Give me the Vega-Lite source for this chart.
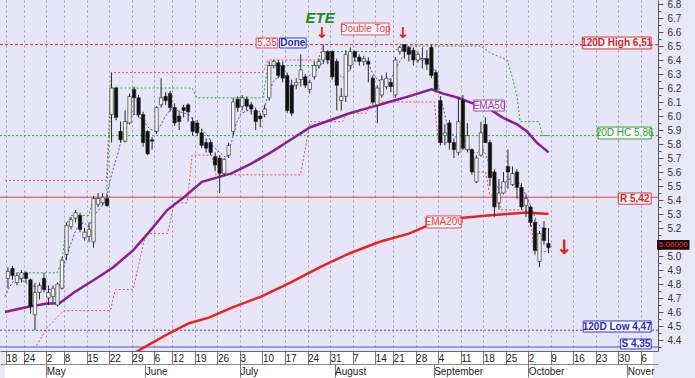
{
"$schema": "https://vega.github.io/schema/vega-lite/v6.json",
"width": 658, "height": 351,
"autosize": {"type": "none"},
"padding": {"left": 0, "top": 0, "right": 37, "bottom": 27},
"background": "#E8E8F6",
"config": {"view": {"fill": "#E6E6F8", "stroke": null}, "font": "Liberation Sans"},
"resolve": {"axis": {"x": "independent", "y": "independent"}},
"datasets": {
"candles": [
{"i":0,"o":4.84,"h":4.92,"l":4.77,"c":4.89},{"i":1,"o":4.91,"h":4.93,"l":4.83,"c":4.86},{"i":2,"o":4.81,"h":4.88,"l":4.79,"c":4.86},{"i":3,"o":4.84,"h":4.90,"l":4.81,"c":4.88},{"i":4,"o":4.88,"h":4.89,"l":4.81,"c":4.84},
{"i":5,"o":4.83,"h":4.84,"l":4.59,"c":4.64},{"i":6,"o":4.58,"h":4.81,"l":4.47,"c":4.74},{"i":7,"o":4.74,"h":4.81,"l":4.69,"c":4.79},{"i":8,"o":4.84,"h":4.88,"l":4.74,"c":4.76},{"i":9,"o":4.70,"h":4.79,"l":4.65,"c":4.74},
{"i":10,"o":4.71,"h":4.79,"l":4.67,"c":4.77},{"i":11,"o":4.65,"h":4.81,"l":4.64,"c":4.80},{"i":12,"o":4.77,"h":4.99,"l":4.76,"c":4.97},{"i":13,"o":5.01,"h":5.24,"l":4.97,"c":5.22},{"i":14,"o":5.21,"h":5.28,"l":5.19,"c":5.26},
{"i":15,"o":5.27,"h":5.33,"l":5.24,"c":5.31},{"i":16,"o":5.29,"h":5.31,"l":5.17,"c":5.19},{"i":17,"o":5.13,"h":5.20,"l":5.11,"c":5.17},{"i":18,"o":5.14,"h":5.24,"l":5.10,"c":5.19},{"i":19,"o":5.10,"h":5.43,"l":5.06,"c":5.41},
{"i":20,"o":5.37,"h":5.45,"l":5.35,"c":5.41},{"i":21,"o":5.38,"h":5.45,"l":5.36,"c":5.42},{"i":22,"o":5.41,"h":5.44,"l":5.35,"c":5.36},{"i":23,"o":6.01,"h":6.31,"l":5.81,"c":6.20},{"i":24,"o":6.20,"h":6.21,"l":5.97,"c":5.99},
{"i":25,"o":5.89,"h":5.96,"l":5.81,"c":5.83},{"i":26,"o":5.82,"h":6.04,"l":5.81,"c":5.96},{"i":27,"o":5.95,"h":6.16,"l":5.94,"c":6.14},{"i":28,"o":6.19,"h":6.21,"l":6.01,"c":6.13},{"i":29,"o":6.13,"h":6.15,"l":5.99,"c":6.01},
{"i":30,"o":6.01,"h":6.03,"l":5.78,"c":5.81},{"i":31,"o":5.89,"h":5.90,"l":5.72,"c":5.73},{"i":32,"o":5.83,"h":5.85,"l":5.76,"c":5.82},{"i":33,"o":5.89,"h":6.07,"l":5.87,"c":6.06},{"i":34,"o":6.08,"h":6.27,"l":6.06,"c":6.13},
{"i":35,"o":6.14,"h":6.17,"l":6.08,"c":6.11},{"i":36,"o":6.16,"h":6.18,"l":6.03,"c":6.06},{"i":37,"o":6.06,"h":6.09,"l":5.93,"c":5.95},{"i":38,"o":6.00,"h":6.04,"l":5.90,"c":5.96},{"i":39,"o":6.06,"h":6.08,"l":5.99,"c":6.04},
{"i":40,"o":6.08,"h":6.09,"l":5.96,"c":6.03},{"i":41,"o":5.96,"h":5.99,"l":5.86,"c":5.89},{"i":42,"o":5.95,"h":5.97,"l":5.86,"c":5.88},{"i":43,"o":5.88,"h":5.91,"l":5.77,"c":5.79},{"i":44,"o":5.81,"h":5.84,"l":5.74,"c":5.77},
{"i":45,"o":5.81,"h":5.83,"l":5.72,"c":5.74},{"i":46,"o":5.71,"h":5.74,"l":5.61,"c":5.65},{"i":47,"o":5.70,"h":5.72,"l":5.45,"c":5.59},{"i":48,"o":5.59,"h":5.70,"l":5.57,"c":5.69},{"i":49,"o":5.72,"h":5.81,"l":5.70,"c":5.79},
{"i":50,"o":5.89,"h":6.13,"l":5.86,"c":6.10},{"i":51,"o":6.12,"h":6.14,"l":6.03,"c":6.06},{"i":52,"o":6.07,"h":6.15,"l":6.04,"c":6.13},{"i":53,"o":6.12,"h":6.14,"l":6.04,"c":6.07},{"i":54,"o":6.08,"h":6.10,"l":6.01,"c":6.05},
{"i":55,"o":6.04,"h":6.06,"l":5.90,"c":5.96},{"i":56,"o":6.00,"h":6.02,"l":5.92,"c":5.98},{"i":57,"o":6.01,"h":6.08,"l":5.99,"c":6.05},{"i":58,"o":6.13,"h":6.39,"l":6.11,"c":6.36},{"i":59,"o":6.36,"h":6.40,"l":6.34,"c":6.39},
{"i":60,"o":6.38,"h":6.40,"l":6.27,"c":6.29},{"i":61,"o":6.36,"h":6.39,"l":6.24,"c":6.27},{"i":62,"o":6.29,"h":6.31,"l":6.02,"c":6.04},{"i":63,"o":6.22,"h":6.26,"l":6.00,"c":6.02},{"i":64,"o":6.22,"h":6.27,"l":6.19,"c":6.24},
{"i":65,"o":6.26,"h":6.44,"l":6.21,"c":6.33},{"i":66,"o":6.28,"h":6.30,"l":6.20,"c":6.22},{"i":67,"o":6.19,"h":6.26,"l":6.16,"c":6.24},{"i":68,"o":6.28,"h":6.39,"l":6.26,"c":6.36},{"i":69,"o":6.36,"h":6.41,"l":6.34,"c":6.39},
{"i":70,"o":6.40,"h":6.51,"l":6.37,"c":6.46},{"i":71,"o":6.46,"h":6.47,"l":6.37,"c":6.40},{"i":72,"o":6.46,"h":6.47,"l":6.26,"c":6.28},{"i":73,"o":6.39,"h":6.41,"l":6.04,"c":6.22},{"i":74,"o":6.11,"h":6.20,"l":6.04,"c":6.14},
{"i":75,"o":6.14,"h":6.47,"l":6.10,"c":6.44},{"i":76,"o":6.36,"h":6.49,"l":6.33,"c":6.46},{"i":77,"o":6.46,"h":6.47,"l":6.39,"c":6.42},{"i":78,"o":6.42,"h":6.44,"l":6.36,"c":6.39},{"i":79,"o":6.39,"h":6.43,"l":6.36,"c":6.41},
{"i":80,"o":6.39,"h":6.42,"l":6.24,"c":6.37},{"i":81,"o":6.27,"h":6.29,"l":6.08,"c":6.10},{"i":82,"o":6.08,"h":6.22,"l":5.95,"c":6.20},{"i":83,"o":6.15,"h":6.29,"l":6.13,"c":6.26},{"i":84,"o":6.21,"h":6.31,"l":6.19,"c":6.27},
{"i":85,"o":6.24,"h":6.27,"l":6.17,"c":6.21},{"i":86,"o":6.15,"h":6.42,"l":6.13,"c":6.40},{"i":87,"o":6.46,"h":6.50,"l":6.44,"c":6.49},{"i":88,"o":6.51,"h":6.51,"l":6.41,"c":6.46},{"i":89,"o":6.49,"h":6.50,"l":6.39,"c":6.44},
{"i":90,"o":6.47,"h":6.49,"l":6.36,"c":6.40},{"i":91,"o":6.40,"h":6.46,"l":6.38,"c":6.44},{"i":92,"o":6.40,"h":6.49,"l":6.34,"c":6.41},{"i":93,"o":6.41,"h":6.47,"l":6.33,"c":6.37},{"i":94,"o":6.49,"h":6.51,"l":6.27,"c":6.29},
{"i":95,"o":6.31,"h":6.33,"l":6.17,"c":6.19},{"i":96,"o":6.11,"h":6.14,"l":5.79,"c":5.81},{"i":97,"o":5.86,"h":5.94,"l":5.79,"c":5.88},{"i":98,"o":5.95,"h":5.97,"l":5.76,"c":5.81},{"i":99,"o":5.81,"h":5.84,"l":5.70,"c":5.76},
{"i":100,"o":5.74,"h":6.13,"l":5.72,"c":5.96},{"i":101,"o":6.11,"h":6.15,"l":5.76,"c":5.77},{"i":102,"o":5.76,"h":5.95,"l":5.74,"c":5.86},{"i":103,"o":5.76,"h":5.77,"l":5.58,"c":5.60},{"i":104,"o":5.53,"h":5.72,"l":5.52,"c":5.70},
{"i":105,"o":5.72,"h":5.96,"l":5.71,"c":5.88},{"i":106,"o":5.94,"h":5.99,"l":5.81,"c":5.81},{"i":107,"o":5.81,"h":5.83,"l":5.50,"c":5.56},{"i":108,"o":5.60,"h":5.62,"l":5.28,"c":5.35},{"i":109,"o":5.38,"h":5.55,"l":5.33,"c":5.45},
{"i":110,"o":5.45,"h":5.60,"l":5.44,"c":5.53},{"i":111,"o":5.64,"h":5.76,"l":5.48,"c":5.60},{"i":112,"o":5.51,"h":5.64,"l":5.50,"c":5.59},{"i":113,"o":5.60,"h":5.62,"l":5.41,"c":5.49},{"i":114,"o":5.49,"h":5.52,"l":5.33,"c":5.35},
{"i":115,"o":5.36,"h":5.44,"l":5.28,"c":5.41},{"i":116,"o":5.35,"h":5.36,"l":5.21,"c":5.24},{"i":117,"o":5.24,"h":5.26,"l":5.01,"c":5.04},{"i":118,"o":4.96,"h":5.18,"l":4.92,"c":5.16},{"i":119,"o":5.20,"h":5.25,"l":5.08,"c":5.11},
{"i":120,"o":5.09,"h":5.20,"l":5.02,"c":5.06}
],
"ema50": [
{"i":-0.66,"v":4.60},{"i":4.81,"v":4.64},{"i":8.75,"v":4.66},{"i":11.37,"v":4.66},{"i":14.65,"v":4.74},{"i":20.11,"v":4.85},{"i":23.39,"v":4.92},{"i":27.77,"v":5.04},{"i":31.04,"v":5.16},{"i":35.42,"v":5.33},{"i":38.70,"v":5.41},{"i":40.88,"v":5.47},{"i":43.07,"v":5.53},{"i":46.35,"v":5.56},{"i":49.63,"v":5.59},{"i":54.00,"v":5.66},{"i":58.37,"v":5.74},{"i":62.75,"v":5.83},{"i":67.12,"v":5.92},{"i":71.49,"v":5.97},{"i":75.86,"v":6.02},{"i":80.23,"v":6.06},{"i":84.61,"v":6.10},{"i":88.98,"v":6.14},{"i":94.01,"v":6.19},{"i":96.63,"v":6.16},{"i":99.91,"v":6.13},{"i":103.19,"v":6.09},{"i":106.47,"v":6.06},{"i":109.75,"v":5.99},{"i":113.03,"v":5.94},{"i":115.22,"v":5.89},{"i":117.40,"v":5.81},{"i":120.03,"v":5.74}
],
"ema200": [
{"i":28.2,"v":4.31},{"i":31.5,"v":4.37},{"i":35.9,"v":4.45},{"i":40.2,"v":4.52},{"i":44.6,"v":4.56},{"i":49.6,"v":4.63},{"i":56.2,"v":4.71},{"i":62.7,"v":4.81},{"i":69.3,"v":4.92},{"i":75.9,"v":5.02},{"i":82.4,"v":5.10},{"i":89.0,"v":5.16},{"i":93.4,"v":5.22},{"i":99.9,"v":5.27},{"i":106.5,"v":5.29},{"i":110.8,"v":5.30},{"i":115.2,"v":5.31},{"i":120.0,"v":5.30}
],
"upper": [
{"i":1.97,"v":4.88},{"i":10.93,"v":4.88},{"i":12.02,"v":4.97},{"i":12.90,"v":5.22},{"i":13.99,"v":5.29},{"i":17.93,"v":5.29},{"i":19.02,"v":5.41},{"i":21.86,"v":5.41},{"i":22.96,"v":6.20},{"i":40.88,"v":6.20},{"i":41.98,"v":6.13},{"i":56.63,"v":6.13},{"i":57.72,"v":6.36},{"i":68.87,"v":6.36},{"i":69.96,"v":6.46},{"i":85.92,"v":6.46},{"i":87.01,"v":6.50},{"i":104.94,"v":6.50},{"i":107.13,"v":6.45},{"i":110.84,"v":6.40},{"i":111.94,"v":6.28},{"i":113.03,"v":6.14},{"i":113.69,"v":5.96},{"i":117.84,"v":5.96},{"i":118.72,"v":5.86},{"i":120.03,"v":5.86}
],
"lower": [
{"i":6.34,"v":4.36},{"i":8.75,"v":4.49},{"i":12.02,"v":4.60},{"i":12.90,"v":4.61},{"i":22.74,"v":4.61},{"i":23.83,"v":4.76},{"i":27.77,"v":4.76},{"i":30.61,"v":5.16},{"i":35.42,"v":5.16},{"i":36.95,"v":5.38},{"i":39.79,"v":5.38},{"i":40.88,"v":5.72},{"i":45.26,"v":5.72},{"i":46.13,"v":5.58},{"i":64.93,"v":5.58},{"i":67.12,"v":5.96},{"i":74.33,"v":5.96},{"i":75.21,"v":6.02},{"i":79.58,"v":6.02},{"i":80.67,"v":6.10},{"i":94.66,"v":6.10},{"i":95.54,"v":5.81},{"i":99.91,"v":5.81},{"i":100.79,"v":5.76},{"i":102.54,"v":5.76},{"i":103.41,"v":5.60},{"i":106.04,"v":5.60},{"i":106.91,"v":5.44},{"i":108.66,"v":5.42},{"i":109.53,"v":5.33},{"i":115.87,"v":5.33},{"i":116.74,"v":5.04},{"i":120.03,"v":5.03}
],
"high120": [
{"i":-0.66,"v":5.54},{"i":21.86,"v":5.54},{"i":22.96,"v":6.31},{"i":56.63,"v":6.31},{"i":57.72,"v":6.40},{"i":68.87,"v":6.40},{"i":69.96,"v":6.51}
],
"trail": [
{"i":-0.7,"v":4.71},{"i":0.9,"v":4.81},{"i":2.6,"v":4.84},{"i":4.8,"v":4.79},{"i":6.6,"v":4.78},{"i":8.8,"v":4.76},{"i":10.9,"v":4.76},{"i":11.8,"v":4.83},{"i":12.9,"v":4.99},{"i":14.0,"v":5.09},{"i":15.1,"v":5.19},{"i":16.8,"v":5.24},{"i":17.9,"v":5.21},{"i":19.0,"v":5.28},{"i":20.6,"v":5.35},{"i":21.9,"v":5.40},{"i":22.3,"v":5.49},{"i":23.4,"v":5.63},{"i":24.5,"v":5.74},{"i":25.1,"v":5.83},{"i":26.2,"v":5.92},{"i":27.3,"v":6.01},{"i":28.4,"v":6.01},{"i":30.0,"v":5.97},{"i":31.1,"v":5.92},{"i":32.6,"v":5.89},{"i":33.7,"v":5.92},{"i":34.8,"v":5.99},{"i":35.9,"v":6.04},{"i":37.0,"v":6.06},{"i":38.0,"v":6.03},{"i":39.1,"v":6.02},{"i":40.2,"v":6.01},{"i":41.3,"v":5.96},{"i":42.4,"v":5.92},{"i":43.5,"v":5.89},{"i":44.6,"v":5.85},{"i":45.3,"v":5.79},{"i":47.0,"v":5.74},{"i":48.5,"v":5.70},{"i":49.6,"v":5.81},{"i":50.7,"v":5.95},{"i":51.8,"v":6.02},{"i":53.4,"v":6.04},{"i":54.7,"v":6.03},{"i":56.6,"v":6.03},{"i":57.7,"v":6.14},{"i":58.8,"v":6.24},{"i":59.9,"v":6.28},{"i":61.0,"v":6.29},{"i":62.1,"v":6.27},{"i":63.2,"v":6.21},{"i":64.3,"v":6.22},{"i":65.4,"v":6.26},{"i":66.5,"v":6.28},{"i":68.7,"v":6.33},{"i":70.0,"v":6.39},{"i":71.5,"v":6.38},{"i":73.0,"v":6.31},{"i":74.3,"v":6.27},{"i":75.4,"v":6.31},{"i":77.0,"v":6.39},{"i":78.5,"v":6.41},{"i":79.8,"v":6.39},{"i":80.9,"v":6.31},{"i":82.0,"v":6.26},{"i":83.5,"v":6.24},{"i":85.1,"v":6.27},{"i":86.1,"v":6.34},{"i":87.5,"v":6.42},{"i":89.0,"v":6.46},{"i":90.5,"v":6.44},{"i":91.8,"v":6.41},{"i":93.4,"v":6.41},{"i":94.5,"v":6.34},{"i":95.5,"v":6.22},{"i":96.6,"v":6.06},{"i":97.7,"v":5.91},{"i":99.3,"v":5.85},{"i":100.6,"v":5.86},{"i":101.7,"v":5.81},{"i":102.8,"v":5.74},{"i":104.3,"v":5.74},{"i":105.4,"v":5.77},{"i":106.5,"v":5.69},{"i":107.6,"v":5.58},{"i":108.7,"v":5.49},{"i":109.8,"v":5.49},{"i":110.8,"v":5.54},{"i":111.9,"v":5.56},{"i":113.0,"v":5.54},{"i":114.1,"v":5.49},{"i":115.2,"v":5.42},{"i":116.3,"v":5.34},{"i":117.4,"v":5.24},{"i":118.5,"v":5.20},{"i":119.6,"v":5.19}
],
"redBold": [
{"t":"120D High 6,51","a":127.5,"b":142.8,"lo":6.479,"hi":6.564,"m":135.15,"n":6.521},
{"t":"R 5,42","a":135.5,"b":142.8,"lo":5.37,"hi":5.45,"m":139.15,"n":5.41}
],
"redReg": [
{"t":"EMA200","a":92.9,"b":100.6,"lo":5.200,"hi":5.286,"m":96.75,"n":5.243},
{"t":"Double Top","a":74.1,"b":84.6,"lo":6.579,"hi":6.664,"m":79.35,"n":6.621},
{"t":"5,35","a":55.1,"b":59.9,"lo":6.486,"hi":6.557,"m":57.5,"n":6.521}
],
"greenBold": [
{"t":"20D HC 5,86","a":131.0,"b":142.8,"lo":5.836,"hi":5.921,"m":136.9,"n":5.879}
],
"blueBold": [
{"t":"120D Low 4,47","a":127.7,"b":142.8,"lo":4.457,"hi":4.536,"m":135.25,"n":4.496},
{"t":"S 4,35","a":136.0,"b":142.8,"lo":4.336,"hi":4.407,"m":139.4,"n":4.371},
{"t":"Done","a":60.3,"b":66.2,"lo":6.486,"hi":6.557,"m":63.25,"n":6.521}
],
"purpleReg": [
{"t":"EMA50","a":103.4,"b":110.2,"lo":6.036,"hi":6.114,"m":106.8,"n":6.075}
]
},
"layer": [
{"data": {"values": [{"a": -0.656, "b": 143.2, "lo": 4.3215, "hi": 4.12}]}, "mark": {"type": "rect", "fill": "#FFFFFF"},
 "encoding": {"x": {"field": "a", "type": "quantitative", "scale": {"domain": [-0.656, 143.2], "nice": false, "zero": false}, "axis": null}, "x2": {"field": "b"},
   "y": {"field": "lo", "type": "quantitative", "scale": {"domain": [4.3215, 6.8286], "nice": false, "zero": false}, "axis": null}, "y2": {"field": "hi"}}},
{"data": {"values": [{"v": 6.51}]}, "mark": {"type": "rule", "color": "#E0303A", "strokeWidth": 1, "strokeDash": [3, 2]},
 "encoding": {"y": {"field": "v", "type": "quantitative", "scale": {"domain": [4.3215, 6.8286], "nice": false, "zero": false},
   "axis": {"orient": "right", "values": [4.4,4.5,4.6,4.7,4.8,4.9,5.0,5.2,5.3,5.4,5.5,5.6,5.7,5.8,5.9,6.0,6.1,6.2,6.3,6.4,6.5,6.6,6.7,6.8], "format": ".1f", "title": null, "tickSize": 5, "labelPadding": 4, "labelFontSize": 10, "labelColor": "#333333", "labelFont": "Liberation Sans", "domainColor": "#555555", "tickColor": "#555555", "grid": false, "labelFlush": false, "labelOverlap": false}}}},
{"data": {"values": [{"v": 5.86}]}, "mark": {"type": "rule", "color": "#3C9F3C", "strokeWidth": 1, "strokeDash": [2, 2]},
 "encoding": {"y": {"field": "v", "type": "quantitative", "scale": {"domain": [4.3215, 6.8286], "nice": false, "zero": false},
   "axis": {"orient": "right", "values": [4.35,4.45,4.55,4.65,4.75,4.85,4.95,5.05,5.15,5.25,5.35,5.45,5.55,5.65,5.75,5.85,5.95,6.05,6.15,6.25,6.35,6.45,6.55,6.65,6.75], "labels": false, "domain": false, "title": null, "tickSize": 3, "tickColor": "#555555", "grid": false}}}},
{"data": {"values": [{"v": 5.42}]}, "mark": {"type": "rule", "color": "#E8404E", "strokeWidth": 1},
 "encoding": {"y": {"field": "v", "type": "quantitative", "scale": {"domain": [4.3215, 6.8286], "nice": false, "zero": false}, "axis": null}}},
{"data": {"values": [{"v": 4.47}]}, "mark": {"type": "rule", "color": "#4848E0", "strokeWidth": 1, "strokeDash": [2, 2]},
 "encoding": {"y": {"field": "v", "type": "quantitative", "scale": {"domain": [4.3215, 6.8286], "nice": false, "zero": false}, "axis": null}}},
{"data": {"values": [{"v": 4.35}]}, "mark": {"type": "rule", "color": "#5050E0", "strokeWidth": 1},
 "encoding": {"y": {"field": "v", "type": "quantitative", "scale": {"domain": [4.3215, 6.8286], "nice": false, "zero": false}, "axis": null}}},
{"data": {"name": "high120"}, "mark": {"type": "line", "color": "#E8505A", "strokeWidth": 1, "strokeDash": [2, 2]},
 "encoding": {"x": {"field": "i", "type": "quantitative", "scale": {"domain": [-0.656, 143.2], "nice": false, "zero": false},
   "axis": {"orient": "bottom", "title": null, "values": [-0.5,3.5,8.5,12.5,17.5,22.5,27.5,32.5,36.5,41.5,46.5,51.5,56.5,61.5,66.5,71.5,76.5,81.5,85.5,90.5,95.5,100.5,105.5,110.5,115.5,120.5,125.5,130.5,135.5,140.5],
     "grid": true, "gridDash": [2, 3], "gridColor": "#9C9CB0", "gridWidth": 1, "labels": false, "ticks": false, "domain": false, "zindex": 0}},
   "y": {"field": "v", "type": "quantitative", "scale": {"domain": [4.3215, 6.8286], "nice": false, "zero": false}, "axis": null}}},
{"data": {"name": "upper"}, "mark": {"type": "line", "color": "#3C9F3C", "strokeWidth": 1, "strokeDash": [2, 2]},
 "encoding": {"x": {"field": "i", "type": "quantitative", "scale": {"domain": [-0.656, 143.2], "nice": false, "zero": false}, "axis": null},
   "y": {"field": "v", "type": "quantitative", "scale": {"domain": [4.3215, 6.8286], "nice": false, "zero": false}, "axis": null}}},
{"data": {"name": "lower"}, "mark": {"type": "line", "color": "#E8505A", "strokeWidth": 1, "strokeDash": [2, 2]},
 "encoding": {"x": {"field": "i", "type": "quantitative", "scale": {"domain": [-0.656, 143.2], "nice": false, "zero": false}, "axis": null},
   "y": {"field": "v", "type": "quantitative", "scale": {"domain": [4.3215, 6.8286], "nice": false, "zero": false}, "axis": null}}},
{"data": {"name": "trail"}, "mark": {"type": "line", "color": "#4B4BE0", "strokeWidth": 1, "strokeDash": [2, 2]},
 "encoding": {"x": {"field": "i", "type": "quantitative", "scale": {"domain": [-0.656, 143.2], "nice": false, "zero": false},
   "axis": {"orient": "bottom", "title": null, "offset": 13, "values": [8.5, 30.5, 51.5, 72.5, 94.5, 115.5, 137.5],
     "labelExpr": "['May','June','July','August','September','October','Nover'][indexof([8.5,30.5,51.5,72.5,94.5,115.5,137.5], datum.value)]",
     "tickSize": 13, "labelPadding": -11, "labelAlign": "left", "labelBaseline": "top", "labelDx": 2, "labelFontSize": 10, "labelColor": "#222222", "labelFont": "Liberation Sans", "labelFlush": false, "labelOverlap": false, "labelBound": false,
     "grid": false, "domainColor": "#888888", "tickColor": "#777777", "zindex": 1}},
   "y": {"field": "v", "type": "quantitative", "scale": {"domain": [4.3215, 6.8286], "nice": false, "zero": false}, "axis": null}}},
{"data": {"name": "ema200"}, "mark": {"type": "line", "color": "#E8231E", "strokeWidth": 2.5, "clip": true},
 "encoding": {"x": {"field": "i", "type": "quantitative", "scale": {"domain": [-0.656, 143.2], "nice": false, "zero": false}, "axis": null},
   "y": {"field": "v", "type": "quantitative", "scale": {"domain": [4.3215, 6.8286], "nice": false, "zero": false}, "axis": null}}},
{"data": {"name": "ema50"}, "mark": {"type": "line", "color": "#8A1F8F", "strokeWidth": 2.5, "clip": true},
 "encoding": {"x": {"field": "i", "type": "quantitative", "scale": {"domain": [-0.656, 143.2], "nice": false, "zero": false}, "axis": null},
   "y": {"field": "v", "type": "quantitative", "scale": {"domain": [4.3215, 6.8286], "nice": false, "zero": false}, "axis": null}}},
{"data": {"name": "candles"}, "mark": {"type": "rule", "color": "#2A2A2A", "strokeWidth": 1},
 "encoding": {"x": {"field": "i", "type": "quantitative", "scale": {"domain": [-0.656, 143.2], "nice": false, "zero": false},
   "axis": {"orient": "bottom", "title": null, "values": [-0.5,3.5,8.5,12.5,17.5,22.5,27.5,32.5,36.5,41.5,46.5,51.5,56.5,61.5,66.5,71.5,76.5,81.5,85.5,90.5,95.5,100.5,105.5,110.5,115.5,120.5,125.5,130.5,135.5,140.5],
     "labelExpr": "['18','24','2','8','15','22','29','6','12','19','26','3','10','17','24','31','7','14','21','28','4','11','18','25','2','9','16','23','30','6'][indexof([-0.5,3.5,8.5,12.5,17.5,22.5,27.5,32.5,36.5,41.5,46.5,51.5,56.5,61.5,66.5,71.5,76.5,81.5,85.5,90.5,95.5,100.5,105.5,110.5,115.5,120.5,125.5,130.5,135.5,140.5], datum.value)]",
     "tickSize": 13, "labelPadding": -11, "labelAlign": "left", "labelBaseline": "top", "labelDx": 2, "labelFontSize": 10, "labelColor": "#222222", "labelFont": "Liberation Sans", "labelFlush": false, "labelOverlap": false, "labelBound": false,
     "grid": false, "domainColor": "#666666", "tickColor": "#777777", "zindex": 1}},
   "y": {"field": "l", "type": "quantitative", "scale": {"domain": [4.3215, 6.8286], "nice": false, "zero": false}, "axis": null},
   "y2": {"field": "h"}}},
{"data": {"name": "candles"}, "mark": {"type": "bar", "size": 3.4, "stroke": "#222222", "strokeWidth": 0.6},
 "encoding": {"x": {"field": "i", "type": "quantitative", "scale": {"domain": [-0.656, 143.2], "nice": false, "zero": false}, "axis": null},
   "y": {"field": "o", "type": "quantitative", "scale": {"domain": [4.3215, 6.8286], "nice": false, "zero": false}, "axis": null},
   "y2": {"field": "c"},
   "fill": {"condition": {"test": "datum.c >= datum.o", "value": "#F2F2F2"}, "value": "#111111"}}},
{"data": {"name": "redBold"}, "mark": {"type": "rect", "fill": "#FFFFFF", "fillOpacity": 0.9, "stroke": "#E0303A", "strokeWidth": 1},
 "encoding": {"x": {"field": "a", "type": "quantitative", "scale": {"domain": [-0.656, 143.2], "nice": false, "zero": false}, "axis": null}, "x2": {"field": "b"},
   "y": {"field": "lo", "type": "quantitative", "scale": {"domain": [4.3215, 6.8286], "nice": false, "zero": false}, "axis": null}, "y2": {"field": "hi"}}},
{"data": {"name": "redBold"}, "mark": {"type": "text", "color": "#E0202A", "fontSize": 10, "fontWeight": "bold", "align": "center", "baseline": "middle"},
 "encoding": {"x": {"field": "m", "type": "quantitative", "scale": {"domain": [-0.656, 143.2], "nice": false, "zero": false}, "axis": null},
   "y": {"field": "n", "type": "quantitative", "scale": {"domain": [4.3215, 6.8286], "nice": false, "zero": false}, "axis": null}, "text": {"field": "t"}}},
{"data": {"name": "redReg"}, "mark": {"type": "rect", "fill": "#FFFFFF", "fillOpacity": 0.85, "stroke": "#E85058", "strokeWidth": 1},
 "encoding": {"x": {"field": "a", "type": "quantitative", "scale": {"domain": [-0.656, 143.2], "nice": false, "zero": false}, "axis": null}, "x2": {"field": "b"},
   "y": {"field": "lo", "type": "quantitative", "scale": {"domain": [4.3215, 6.8286], "nice": false, "zero": false}, "axis": null}, "y2": {"field": "hi"}}},
{"data": {"name": "redReg"}, "mark": {"type": "text", "color": "#E8404A", "fontSize": 10, "align": "center", "baseline": "middle"},
 "encoding": {"x": {"field": "m", "type": "quantitative", "scale": {"domain": [-0.656, 143.2], "nice": false, "zero": false}, "axis": null},
   "y": {"field": "n", "type": "quantitative", "scale": {"domain": [4.3215, 6.8286], "nice": false, "zero": false}, "axis": null}, "text": {"field": "t"}}},
{"data": {"name": "greenBold"}, "mark": {"type": "rect", "fill": "#FFFFFF", "fillOpacity": 0.9, "stroke": "#3C9F3C", "strokeWidth": 1},
 "encoding": {"x": {"field": "a", "type": "quantitative", "scale": {"domain": [-0.656, 143.2], "nice": false, "zero": false}, "axis": null}, "x2": {"field": "b"},
   "y": {"field": "lo", "type": "quantitative", "scale": {"domain": [4.3215, 6.8286], "nice": false, "zero": false}, "axis": null}, "y2": {"field": "hi"}}},
{"data": {"name": "greenBold"}, "mark": {"type": "text", "color": "#2E9A2E", "fontSize": 10, "align": "center", "baseline": "middle"},
 "encoding": {"x": {"field": "m", "type": "quantitative", "scale": {"domain": [-0.656, 143.2], "nice": false, "zero": false}, "axis": null},
   "y": {"field": "n", "type": "quantitative", "scale": {"domain": [4.3215, 6.8286], "nice": false, "zero": false}, "axis": null}, "text": {"field": "t"}}},
{"data": {"name": "blueBold"}, "mark": {"type": "rect", "fill": "#FFFFFF", "fillOpacity": 0.9, "stroke": "#3434D8", "strokeWidth": 1},
 "encoding": {"x": {"field": "a", "type": "quantitative", "scale": {"domain": [-0.656, 143.2], "nice": false, "zero": false}, "axis": null}, "x2": {"field": "b"},
   "y": {"field": "lo", "type": "quantitative", "scale": {"domain": [4.3215, 6.8286], "nice": false, "zero": false}, "axis": null}, "y2": {"field": "hi"}}},
{"data": {"name": "blueBold"}, "mark": {"type": "text", "color": "#2828D0", "fontSize": 10, "fontWeight": "bold", "align": "center", "baseline": "middle"},
 "encoding": {"x": {"field": "m", "type": "quantitative", "scale": {"domain": [-0.656, 143.2], "nice": false, "zero": false}, "axis": null},
   "y": {"field": "n", "type": "quantitative", "scale": {"domain": [4.3215, 6.8286], "nice": false, "zero": false}, "axis": null}, "text": {"field": "t"}}},
{"data": {"name": "purpleReg"}, "mark": {"type": "rect", "fill": "#FFFFFF", "fillOpacity": 0.85, "stroke": "#A040A8", "strokeWidth": 1},
 "encoding": {"x": {"field": "a", "type": "quantitative", "scale": {"domain": [-0.656, 143.2], "nice": false, "zero": false}, "axis": null}, "x2": {"field": "b"},
   "y": {"field": "lo", "type": "quantitative", "scale": {"domain": [4.3215, 6.8286], "nice": false, "zero": false}, "axis": null}, "y2": {"field": "hi"}}},
{"data": {"name": "purpleReg"}, "mark": {"type": "text", "color": "#9A3AA2", "fontSize": 10, "align": "center", "baseline": "middle"},
 "encoding": {"x": {"field": "m", "type": "quantitative", "scale": {"domain": [-0.656, 143.2], "nice": false, "zero": false}, "axis": null},
   "y": {"field": "n", "type": "quantitative", "scale": {"domain": [4.3215, 6.8286], "nice": false, "zero": false}, "axis": null}, "text": {"field": "t"}}},
{"data": {"values": [{"a": 144.1, "b": 151.3, "lo": 5.045, "hi": 5.115}]}, "mark": {"type": "rect", "fill": "#1A0A0A"},
 "encoding": {"x": {"field": "a", "type": "quantitative", "scale": {"domain": [-0.656, 143.2], "nice": false, "zero": false}, "axis": null}, "x2": {"field": "b"},
   "y": {"field": "lo", "type": "quantitative", "scale": {"domain": [4.3215, 6.8286], "nice": false, "zero": false}, "axis": null}, "y2": {"field": "hi"}}},
{"data": {"values": [{"m": 147.7, "n": 5.08, "t": "5.06000"}]}, "mark": {"type": "text", "color": "#FF3030", "fontSize": 8, "align": "center", "baseline": "middle"},
 "encoding": {"x": {"field": "m", "type": "quantitative", "scale": {"domain": [-0.656, 143.2], "nice": false, "zero": false}, "axis": null},
   "y": {"field": "n", "type": "quantitative", "scale": {"domain": [4.3215, 6.8286], "nice": false, "zero": false}, "axis": null}, "text": {"field": "t"}}},
{"data": {"values": [{"m": 69.7, "n": 6.59, "t": "↓"}, {"m": 87.7, "n": 6.59, "t": "↓"}]}, "mark": {"type": "text", "color": "#E8201A", "fontSize": 15, "fontWeight": "bold", "font": "DejaVu Sans", "align": "center", "baseline": "middle"},
 "encoding": {"x": {"field": "m", "type": "quantitative", "scale": {"domain": [-0.656, 143.2], "nice": false, "zero": false}, "axis": null},
   "y": {"field": "n", "type": "quantitative", "scale": {"domain": [4.3215, 6.8286], "nice": false, "zero": false}, "axis": null}, "text": {"field": "t"}}},
{"data": {"values": [{"m": 123.5, "n": 5.06, "t": "↓"}]}, "mark": {"type": "text", "color": "#E8201A", "fontSize": 20, "fontWeight": "bold", "font": "DejaVu Sans", "align": "center", "baseline": "middle"},
 "encoding": {"x": {"field": "m", "type": "quantitative", "scale": {"domain": [-0.656, 143.2], "nice": false, "zero": false}, "axis": null},
   "y": {"field": "n", "type": "quantitative", "scale": {"domain": [4.3215, 6.8286], "nice": false, "zero": false}, "axis": null}, "text": {"field": "t"}}},
{"data": {"values": [{"m": 69.3, "n": 6.70, "t": "ETE"}]}, "mark": {"type": "text", "color": "#1E8C1E", "fontSize": 15, "fontWeight": "bold", "fontStyle": "italic", "align": "center", "baseline": "middle"},
 "encoding": {"x": {"field": "m", "type": "quantitative", "scale": {"domain": [-0.656, 143.2], "nice": false, "zero": false}, "axis": null},
   "y": {"field": "n", "type": "quantitative", "scale": {"domain": [4.3215, 6.8286], "nice": false, "zero": false}, "axis": null}, "text": {"field": "t"}}}
]
}
